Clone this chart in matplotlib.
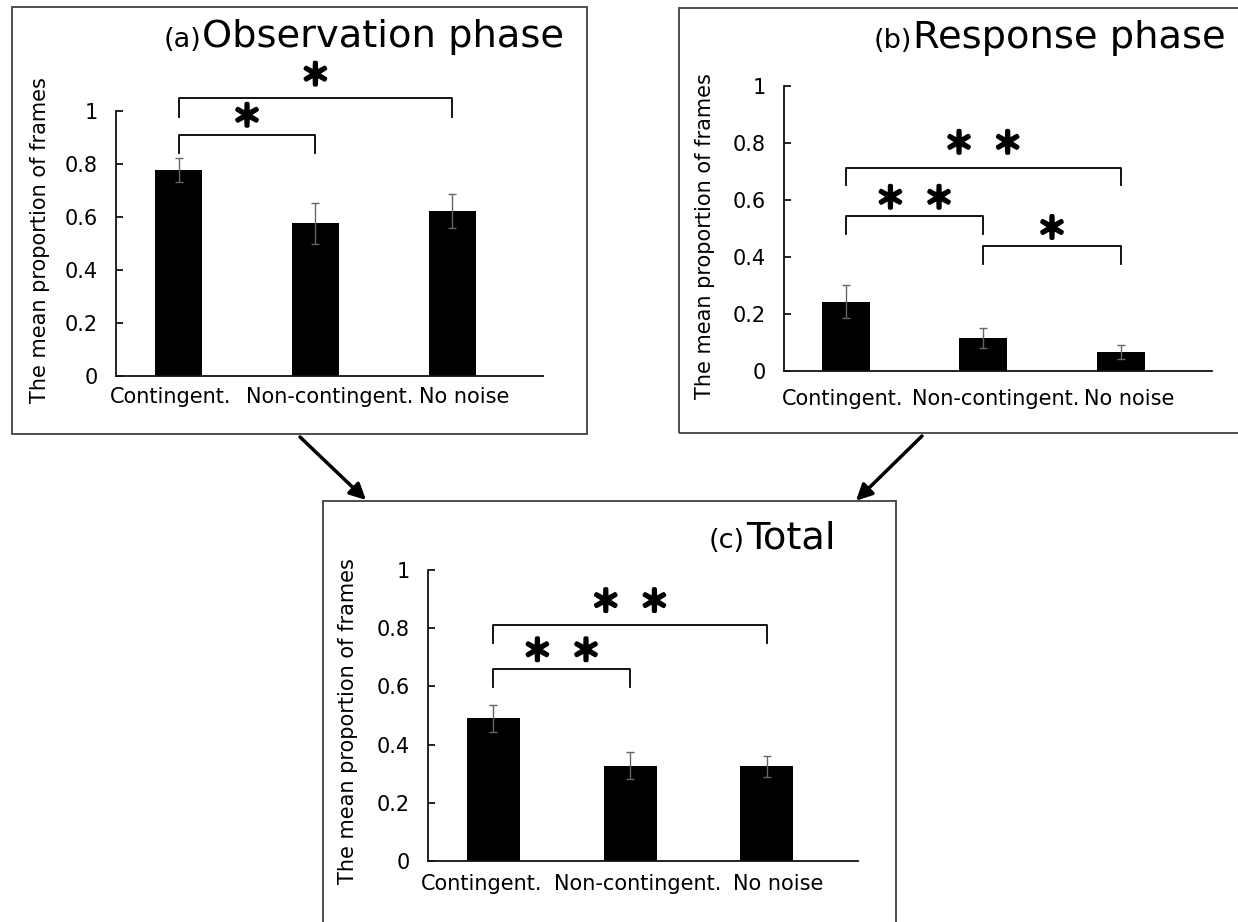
import matplotlib
matplotlib.use("Agg")
import matplotlib.pyplot as plt
import matplotlib.patheffects as pe
from matplotlib.patches import Rectangle, FancyArrowPatch
from matplotlib.transforms import ScaledTranslation

plt.rcParams["font.family"] = ["DejaVu Sans"]

W, H, DPI = 1238, 922, 100

categories = ["Contingent.", "Non-contingent.", "No noise"]
y_ticks = [0, 0.2, 0.4, 0.6, 0.8, 1]
y_tick_labels = ["0", "0.2", "0.4", "0.6", "0.8", "1"]
y_label = "The mean proportion of frames"

obs_means = [0.776, 0.575, 0.621]
obs_errs = [0.046, 0.077, 0.065]
resp_means = [0.243, 0.116, 0.066]
resp_errs = [0.059, 0.035, 0.024]
total_means = [0.490, 0.327, 0.326]
total_errs = [0.046, 0.046, 0.036]

# pairwise comparisons: (bar i, bar j, number of stars)
obs_sig = [(0, 1, 1), (0, 2, 1)]
resp_sig = [(0, 2, 2), (0, 1, 2), (1, 2, 1)]
total_sig = [(0, 2, 2), (0, 1, 2)]

STAR = "\uff0a"
STAR_FONT = ["Noto Sans CJK JP", "DejaVu Sans"]


def fx(px):
    return px / W


def fy(py):
    return 1 - py / H


def px_axes(fig, left, top, right, bottom):
    return fig.add_axes([fx(left), fy(bottom), (right - left) / W, (bottom - top) / H])


def draw_panel(fig, box, axes_px, xlim, bar_width, means, errs, sig, brackets,
               ylabel_px, xpad, label_shift):
    left, top, right, bottom = axes_px
    ax = px_axes(fig, left, top, right, bottom)
    x = list(range(len(categories)))
    ax.bar(x, means, width=bar_width, color="black", zorder=2)
    ax.errorbar(x, means, yerr=errs, fmt="none", ecolor="#666666",
                elinewidth=1.0, capsize=3, capthick=1.0, zorder=3)
    ax.set_xlim(*xlim)
    ax.set_ylim(0, 1)
    for side in ("top", "right"):
        ax.spines[side].set_visible(False)
    for side in ("left", "bottom"):
        ax.spines[side].set_linewidth(1.3)
        ax.spines[side].set_color("#111111")
    ax.set_yticks(y_ticks)
    ax.set_yticklabels(y_tick_labels, fontsize=15)
    ax.tick_params(axis="y", direction="in", length=5, width=1.2, pad=13)
    ax.set_xticks(x)
    ax.set_xticklabels(categories, fontsize=15)
    ax.tick_params(axis="x", length=0, pad=xpad)
    for lab, dx in zip(ax.get_xticklabels(), label_shift):
        lab.set_transform(lab.get_transform() + ScaledTranslation(dx / DPI, 0, fig.dpi_scale_trans))

    ax.set_ylabel(y_label, fontsize=15)
    lx, ly = ylabel_px
    ax.yaxis.set_label_coords((lx - left) / (right - left), (bottom - ly) / (bottom - top))

    # significance brackets
    for (i, j, n), (top_y, leg_y, star_y) in zip(sig, brackets):
        ax.plot([i, i, j, j], [leg_y, top_y, top_y, leg_y], color="black",
                lw=1.3, clip_on=False, zorder=4)
        mid = (i + j) / 2
        offsets = [0] if n == 1 else [-17.5, 17.5]
        for dx in offsets:
            ax.annotate(STAR, xy=(mid, star_y), xytext=(dx, 0), textcoords="offset points",
                        ha="center", va="center", fontsize=21,
                        family=STAR_FONT, annotation_clip=False,
                        path_effects=[pe.withStroke(linewidth=2.6, foreground="black")])

    bl, bt, br, bb = box
    fig.add_artist(Rectangle((fx(bl), fy(bb)), (br - bl) / W, (bb - bt) / H,
                             transform=fig.transFigure, fill=False,
                             edgecolor="#404040", lw=1.3))
    return ax


def panel_title(fig, tag, text, start_px, baseline_px):
    fig.text(fx(start_px), fy(baseline_px), text, fontsize=27.6, ha="left", va="baseline")
    fig.text(fx(start_px - 1), fy(baseline_px), tag, fontsize=19.5, ha="right", va="baseline")


fig = plt.figure(figsize=(W / DPI, H / DPI), dpi=DPI)

draw_panel(fig, box=(11.5, 6.7, 587, 434), axes_px=(115.6, 110.7, 543.4, 376),
           xlim=(-0.461, 2.668), bar_width=0.344, means=obs_means, errs=obs_errs,
           sig=obs_sig, brackets=[(0.910, 0.842, 0.973), (1.048, 0.975, 1.128)],
           ylabel_px=(50, 240.5), xpad=8, label_shift=[-8, 14, 12])
panel_title(fig, "(a)", "Observation phase", 202, 46.7)

draw_panel(fig, box=(679, 8.3, 1260, 433.3), axes_px=(784, 86, 1212, 370.7),
           xlim=(-0.452, 2.666), bar_width=0.35, means=resp_means, errs=resp_errs,
           sig=resp_sig, brackets=[(0.711, 0.652, 0.793), (0.543, 0.479, 0.600),
                                   (0.438, 0.374, 0.494)],
           ylabel_px=(715, 236), xpad=13, label_shift=[-3, 12, 9])
panel_title(fig, "(b)", "Response phase", 913, 48.3)

draw_panel(fig, box=(322.5, 500.5, 896, 940), axes_px=(428, 570, 857.7, 861),
           xlim=(-0.477, 2.664), bar_width=0.387, means=total_means, errs=total_errs,
           sig=total_sig, brackets=[(0.811, 0.748, 0.886), (0.659, 0.597, 0.717)],
           ylabel_px=(358.3, 721.5), xpad=9, label_shift=[-12, 8, 11])
panel_title(fig, "(c)", "Total", 746, 548.3)

for (x0, y0), (x1, y1) in [((300, 437), (366, 500)), ((922, 436), (856, 500.7))]:
    fig.add_artist(FancyArrowPatch((fx(x0), fy(y0)), (fx(x1), fy(y1)),
                                   transform=fig.transFigure, arrowstyle="-|>",
                                   mutation_scale=24, lw=2.5, color="black",
                                   shrinkA=0, shrinkB=0))

fig.savefig("out.png", dpi=DPI)
